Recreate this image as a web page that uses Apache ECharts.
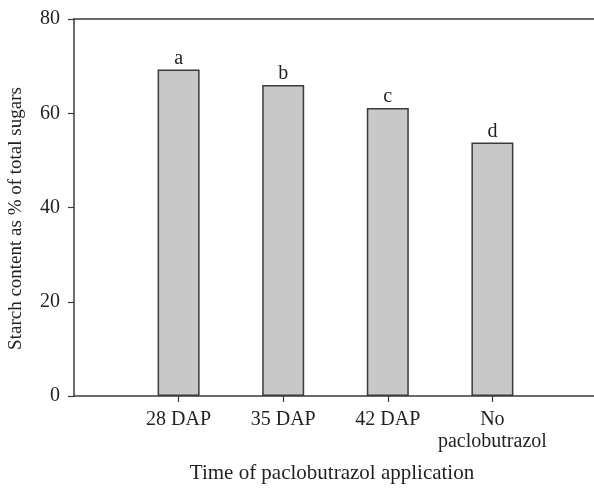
<!DOCTYPE html>
<html>
<head>
<meta charset="utf-8">
<script src="https://cdn.jsdelivr.net/npm/echarts@6/dist/echarts.min.js"></script>
<style>
  html, body { margin: 0; padding: 0; background: #fff; }
  #chart { width: 594px; height: 488px; }
</style>
</head>
<body>
<div id="chart"></div>
<script>
// categories (blank ones pad the ends of the axis)
var categories = ['', '28 DAP', '35 DAP', '42 DAP', 'No\npaclobutrazol', '']
var starch = [null, 69.3, 66.0, 61.1, 53.8, null]
var letters = ['', 'a', 'b', 'c', 'd', '']
var yTicks = [0, 20, 40, 60, 80]

var font = 'Liberation Serif'
var ink = '#231f20'

var chart = echarts.init(document.getElementById('chart'))

var option = {
  animation: false,
  title: {
    text: 'Time of paclobutrazol application',
    left: 327,
    top: 458,
    textAlign: 'center',
    textStyle: { fontFamily: font, fontSize: 21, fontWeight: 'normal', color: ink },
  },
  grid: { left: 74, right: -3, top: 19, bottom: 92, containLabel: false, outerBoundsMode: 'none' },
  xAxis: [
    {
      type: 'category',
      data: categories,
      boundaryGap: false,
      axisLine: { lineStyle: { color: '#3a3a3a', width: 1.5 } },
      axisTick: {
        length: 6,
        interval: function (i, v) { return v !== '' },
        lineStyle: { color: '#3a3a3a', width: 1.2 },
      },
      axisLabel: {
        interval: 0,
        margin: 13,
        color: ink,
        fontFamily: font,
        fontSize: 20,
        lineHeight: 22,
      },
      splitLine: { show: false },
    },
    {
      // top frame line
      type: 'category',
      position: 'top',
      data: categories,
      boundaryGap: false,
      axisLine: { lineStyle: { color: '#3a3a3a', width: 1.5 } },
      axisTick: { show: false },
      axisLabel: { show: false },
    },
  ],
  yAxis: {
    type: 'value',
    min: yTicks[0],
    max: yTicks[yTicks.length - 1],
    interval: 20,
    name: 'Starch content as % of total sugars',
    nameLocation: 'middle',
    nameGap: 48,
    nameTextStyle: { fontFamily: font, fontSize: 19, color: ink, padding: [0, 22, 0, 0] },
    axisLine: { show: true, lineStyle: { color: '#3a3a3a', width: 1.5 } },
    axisTick: { show: true, length: 6, lineStyle: { color: '#3a3a3a', width: 1.2 } },
    axisLabel: { margin: 14, color: ink, fontFamily: font, fontSize: 20 },
    splitLine: { show: false },
  },
  series: [
    {
      type: 'bar',
      data: starch,
      barWidth: 42,
      itemStyle: { color: '#c8c8c9', borderColor: '#3a3a3a', borderWidth: 1.5 },
      label: {
        show: true,
        position: 'top',
        distance: 1,
        color: ink,
        fontFamily: font,
        fontSize: 20,
        formatter: function (p) { return letters[p.dataIndex] },
      },
    },
  ],
}

chart.setOption(option)
</script>
</body>
</html>
